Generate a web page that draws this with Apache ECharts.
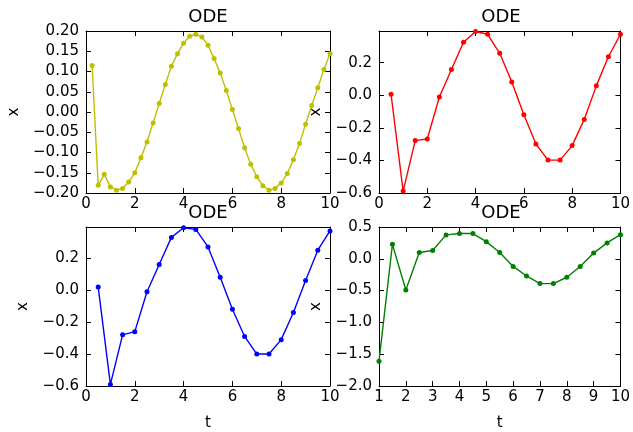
<!DOCTYPE html>
<html>
<head>
<meta charset="utf-8">
<script src="https://cdn.jsdelivr.net/npm/echarts@6/dist/echarts.min.js"></script>
<style>html,body{margin:0;padding:0;background:#fff;}#c{width:633px;height:432px;}</style>
</head>
<body>
<div id="c"></div>
<script>
// ---- data ----
const tYellow = [0.25,0.5,0.75,1,1.25,1.5,1.75,2,2.25,2.5,2.75,3,3.25,3.5,3.75,4,4.25,4.5,4.75,5,5.25,5.5,5.75,6,6.25,6.5,6.75,7,7.25,7.5,7.75,8,8.25,8.5,8.75,9,9.25,9.5,9.75,10];
const xYellow = [0.115,-0.181,-0.154,-0.185,-0.193,-0.189,-0.173,-0.150,-0.113,-0.074,-0.027,0.021,0.068,0.113,0.144,0.170,0.187,0.192,0.185,0.165,0.132,0.096,0.053,0.006,-0.041,-0.088,-0.129,-0.160,-0.182,-0.193,-0.189,-0.175,-0.152,-0.118,-0.078,-0.030,0.016,0.060,0.105,0.144];
const tHalf = [0.5,1,1.5,2,2.5,3,3.5,4,4.5,5,5.5,6,6.5,7,7.5,8,8.5,9,9.5,10];
const xRed = [0.006,-0.588,-0.278,-0.268,-0.010,0.159,0.326,0.392,0.375,0.258,0.082,-0.120,-0.299,-0.398,-0.398,-0.309,-0.148,0.058,0.237,0.375];
const xBlue = [0.019,-0.590,-0.280,-0.260,-0.010,0.160,0.330,0.390,0.380,0.270,0.080,-0.120,-0.290,-0.400,-0.400,-0.310,-0.140,0.060,0.250,0.370];
const tGreen = [1,1.5,2,2.5,3,3.5,4,4.5,5,5.5,6,6.5,7,7.5,8,8.5,9,9.5,10];
const xGreen = [-1.61,0.227,-0.49,0.10,0.13,0.376,0.397,0.397,0.27,0.10,-0.12,-0.27,-0.39,-0.39,-0.29,-0.12,0.09,0.25,0.38];
const titles = ['ODE','ODE','ODE','ODE'];

// ---- layout ----
const FONT = 'DejaVu Sans';
const grids = [
  {left:86, top:31, width:244, height:162},
  {left:379, top:31, width:244, height:162},
  {left:86, top:227, width:244, height:162},
  {left:379, top:227, width:244, height:162}
];
const panels = [
  {t:tYellow, x:xYellow, color:'#bfbf00', xmin:0, xmax:10, xint:2, ymin:-0.2, ymax:0.2, yint:0.05, dec:2, yGap:64, xName:''},
  {t:tHalf, x:xRed, color:'#ff0000', xmin:0, xmax:10, xint:2, ymin:-0.6, ymax:0.395, yint:0.2, dec:1, yGap:55, xName:''},
  {t:tHalf, x:xBlue, color:'#0000ff', xmin:0, xmax:10, xint:2, ymin:-0.6, ymax:0.395, yint:0.2, dec:1, yGap:55, xName:'t'},
  {t:tGreen, x:xGreen, color:'#008000', xmin:1, xmax:10, xint:1, ymin:-2.0, ymax:0.5, yint:0.5, dec:1, yGap:55, xName:'t'}
];

function fmt(v, dec) {
  const r = Math.round(v * Math.pow(10, dec)) / Math.pow(10, dec);
  const s = Math.abs(r).toFixed(dec);
  return (r < 0 ? '\u2212' : '') + s;
}
function isTick(v, min, int) {
  const k = (v - min) / int;
  return Math.abs(k - Math.round(k)) < 1e-6;
}

const lineBlack = {show:true, onZero:false, lineStyle:{color:'#000', width:1}};
const tick = {show:true, inside:true, length:5, lineStyle:{color:'#000', width:1}};
const labelStyle = {color:'#000', fontFamily:FONT, fontSize:15};

const option = {
  animation:false,
  backgroundColor:'#fff',
  title: grids.map((g,i)=>({
    text:titles[i], left:g.left + g.width/2, top:g.top - 23, textAlign:'center', padding:0,
    textStyle:{fontFamily:FONT, fontSize:18, fontWeight:'normal', color:'#000'}
  })),
  grid: grids.map(g=>Object.assign({containLabel:false}, g)),
  xAxis: [],
  yAxis: [],
  series: []
};

panels.forEach((p,i)=>{
  option.xAxis.push({
    type:'value', gridIndex:i, position:'bottom', min:p.xmin, max:p.xmax, interval:p.xint,
    axisLine:lineBlack, axisTick:tick, splitLine:{show:false},
    axisLabel:Object.assign({margin:4, formatter:v=>String(Math.round(v))}, labelStyle),
    name:p.xName, nameLocation:'middle', nameGap:30,
    nameTextStyle:{fontFamily:FONT, fontSize:15, color:'#000'}
  });
  option.xAxis.push({
    type:'value', gridIndex:i, position:'top', min:p.xmin, max:p.xmax, interval:p.xint,
    axisLine:lineBlack, axisTick:tick, splitLine:{show:false}, axisLabel:{show:false}
  });
  option.yAxis.push({
    type:'value', gridIndex:i, position:'left', min:p.ymin, max:p.ymax, interval:p.yint,
    axisLine:lineBlack, axisTick:tick, splitLine:{show:false},
    axisLabel:Object.assign({margin:7, showMaxLabel: isTick(p.ymax,p.ymin,p.yint),
      formatter:v=> isTick(v,p.ymin,p.yint) ? fmt(v,p.dec) : ''}, labelStyle),
    name:'x', nameLocation:'middle', nameGap:p.yGap, nameRotate:90,
    nameTextStyle:{fontFamily:FONT, fontSize:15, color:'#000'}
  });
  option.yAxis.push({
    type:'value', gridIndex:i, position:'right', min:p.ymin, max:p.ymax, interval:p.yint,
    axisLine:lineBlack, axisTick:tick, splitLine:{show:false}, axisLabel:{show:false}
  });
  option.series.push({
    type:'line', xAxisIndex:2*i, yAxisIndex:2*i,
    data:p.t.map((t,k)=>[t, p.x[k]]),
    symbol:'circle', symbolSize:5, showSymbol:true, clip:true,
    lineStyle:{color:p.color, width:1.4},
    itemStyle:{color:p.color},
    emphasis:{disabled:true}
  });
});

const chart = echarts.init(document.getElementById('c'), null, {renderer:'canvas'});
chart.setOption(option);
</script>
</body>
</html>
